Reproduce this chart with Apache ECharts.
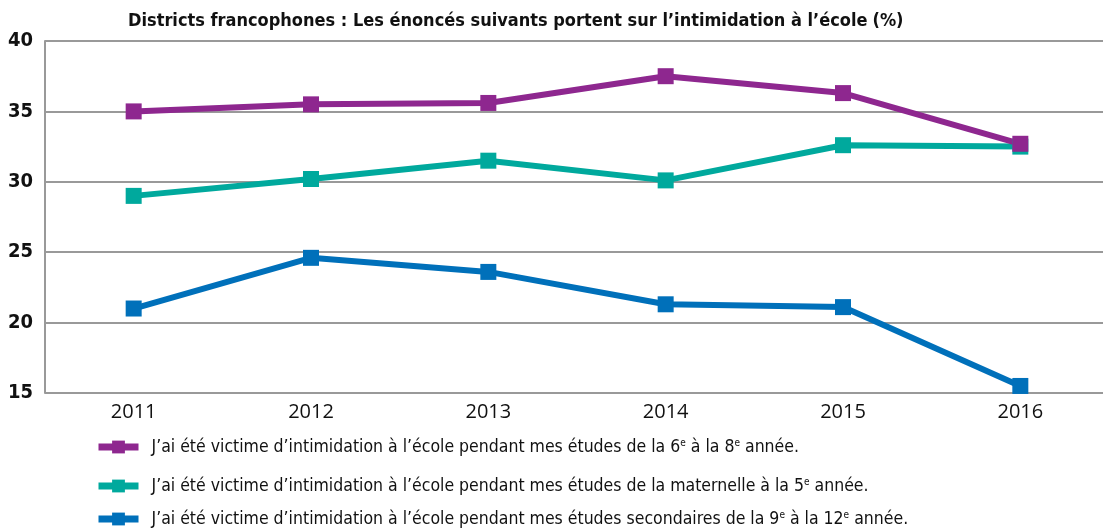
<!DOCTYPE html>
<html>
<head>
<meta charset="utf-8">
<script src="https://cdn.jsdelivr.net/npm/echarts@6/dist/echarts.min.js"></script>
<style>
  html, body { margin: 0; padding: 0; background: #fff; }
  #chart { width: 1103px; height: 531px; }
</style>
</head>
<body>
<div id="chart"></div>
<script>
// années et pourcentages
const years = ["2011", "2012", "2013", "2014", "2015", "2016"];
const grade6to8 = [35.0, 35.5, 35.6, 37.5, 36.3, 32.7];
const kinderTo5 = [29.0, 30.2, 31.5, 30.1, 32.6, 32.5];
const grade9to12 = [21.0, 24.6, 23.6, 21.3, 21.1, 15.5];

const seriesNames = [
  "J’ai été victime d’intimidation à l’école pendant mes études de la 6e à la 8e année.",
  "J’ai été victime d’intimidation à l’école pendant mes études de la maternelle à la 5e année.",
  "J’ai été victime d’intimidation à l’école pendant mes études secondaires de la 9e à la 12e année."
];
// même texte, avec les exposants
const legendLabels = [
  "J’ai été victime d’intimidation à l’école pendant mes études de la 6{sup|e} à la 8{sup|e} année.",
  "J’ai été victime d’intimidation à l’école pendant mes études de la maternelle à la 5{sup|e} année.",
  "J’ai été victime d’intimidation à l’école pendant mes études secondaires de la 9{sup|e} à la 12{sup|e} année."
];
const colors = ["#8e278f", "#00a99d", "#0070ba"];

const condensed = '"Liberation Sans Narrow", "DejaVu Sans Condensed", sans-serif';

const chart = echarts.init(document.getElementById("chart"));

function makeLegend(i, top) {
  return {
    data: [seriesNames[i]],
    left: 90,
    top: top,
    itemWidth: 40,
    itemHeight: 16,
    itemGap: 0,
    lineStyle: { width: 7 },
    formatter: () => legendLabels[i],
    textStyle: {
      fontFamily: condensed,
      fontSize: 17.5,
      color: "#111",
      padding: [0, 0, 0, 8],
      rich: {
        sup: { fontFamily: condensed, fontSize: 10, verticalAlign: "top", padding: [0, 0, 8, 0], color: "#111" }
      }
    }
  };
}

function makeSeries(i, values) {
  return {
    name: seriesNames[i],
    type: "line",
    data: values,
    symbol: "rect",
    symbolSize: 16,
    color: colors[i],
    lineStyle: { width: 6, color: colors[i] },
    itemStyle: { color: colors[i] },
    emphasis: { disabled: true },
    animation: false
  };
}

chart.setOption({
  title: {
    text: "{b|Districts francophones : Les énoncés suivants portent sur l’intimidation à l’école} {n|(%)}",
    left: 123,
    top: 7,
    textStyle: {
      rich: {
        b: { fontFamily: condensed, fontWeight: "bold", fontSize: 18, color: "#111" },
        n: { fontFamily: condensed, fontSize: 18, color: "#111" }
      }
    }
  },
  legend: [makeLegend(0, 433), makeLegend(1, 472), makeLegend(2, 505)],
  grid: { left: 45, right: -6, top: 41, bottom: 138, outerBoundsMode: "none", containLabel: false },
  xAxis: {
    type: "category",
    data: years,
    boundaryGap: true,
    axisLine: { show: false },
    axisTick: { show: false },
    axisLabel: { fontFamily: '"Open Sans", sans-serif', fontSize: 20, color: "#111", margin: 9 }
  },
  yAxis: {
    type: "value",
    min: 15,
    max: 40,
    interval: 5,
    axisLine: { show: true, lineStyle: { color: "#999", width: 2 } },
    axisTick: { show: false },
    splitLine: { lineStyle: { color: "#999", width: 2 } },
    axisLabel: { fontFamily: condensed, fontWeight: "bold", fontSize: 20, color: "#111", margin: 12 }
  },
  series: [
    makeSeries(1, kinderTo5),
    makeSeries(2, grade9to12),
    makeSeries(0, grade6to8)
  ]
});
</script>
</body>
</html>
